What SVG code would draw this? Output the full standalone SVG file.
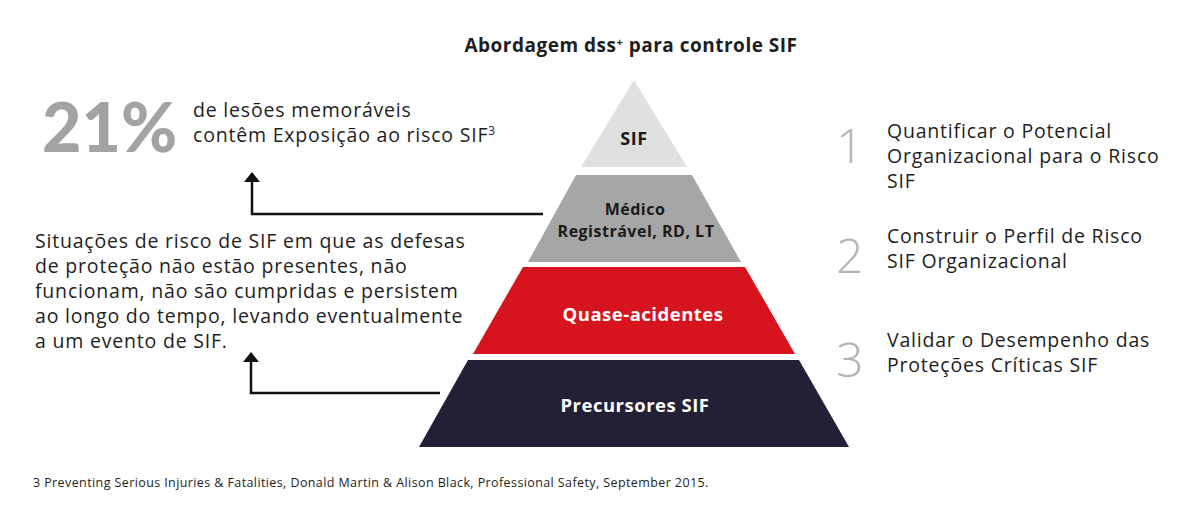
<svg xmlns="http://www.w3.org/2000/svg" width="1200" height="523" viewBox="0 0 1200 523">
<defs>
<style>
.t{font-family:"Open Sans",Lato,sans-serif;fill:#1e1e1e}
.b{font-weight:700}
.body{font-size:19.5px;letter-spacing:0.8px}
.num{font-family:"Open Sans",sans-serif;font-weight:300;font-size:48px;fill:#b3b3b3}
.lbl{font-family:"Open Sans",sans-serif;font-weight:700;text-anchor:middle;letter-spacing:0.5px}
.conn{fill:none;stroke:#111;stroke-width:2.5}
</style>
<marker id="ah" viewBox="0 0 10 16" refX="2" refY="8" markerWidth="10" markerHeight="16" markerUnits="userSpaceOnUse" orient="auto">
<path d="M0,0 L10,8 L0,16 z" fill="#111"/>
</marker>
</defs>
<rect width="1200" height="523" fill="#fff"/>
<text class="t b" x="631" y="52" font-size="19" letter-spacing="0.5" text-anchor="middle">Abordagem dss<tspan font-size="11" dy="-6">+</tspan><tspan dy="6"> para controle SIF</tspan></text>
<g id="stat">
<text x="42" y="152" font-family="Lato,sans-serif" font-weight="900" font-size="68" fill="#a3a3a3">21%</text>
<text class="t body" x="193" y="117">de lesões memoráveis</text>
<text class="t body" x="193" y="142">contêm Exposição ao risco SIF<tspan font-size="12" dy="-7">3</tspan></text>
</g>
<g id="desc">
<text class="t body" x="35" y="248">Situações de risco de SIF em que as defesas</text>
<text class="t body" x="35" y="273">de proteção não estão presentes, não</text>
<text class="t body" x="35" y="298">funcionam, não são cumpridas e persistem</text>
<text class="t body" x="35" y="323">ao longo do tempo, levando eventualmente</text>
<text class="t body" x="35" y="348">a um evento de SIF.</text>
</g>
<g id="layer-sif">
<polygon points="634,80 687,167 581,167" fill="#e0e0e0"/>
<text class="lbl" x="634" y="145" font-size="18" fill="#1a1a1a">SIF</text>
</g>
<g id="layer-medico">
<polygon points="576,175 692,175 741,262 528,262" fill="#a6a6a6"/>
<text class="lbl" x="635" y="215" font-size="16" fill="#1a1a1a">Médico</text>
<text class="lbl" x="636" y="237" font-size="16" fill="#1a1a1a">Registrável, RD, LT</text>
</g>
<g id="layer-quase">
<polygon points="523,267 745,267 795,354 473,354" fill="#d7141d"/>
<text class="lbl" x="643" y="321" font-size="18.5" fill="#fff">Quase-acidentes</text>
</g>
<g id="layer-precursores">
<polygon points="468,360 799,360 849,447 419,447" fill="#231f36"/>
<text class="lbl" x="635" y="412" font-size="18.5" letter-spacing="0.6" fill="#fff">Precursores SIF</text>
</g>
<g id="connectors">
<path class="conn" d="M543,214 H252 V180" marker-end="url(#ah)"/>
<path class="conn" d="M440,393 H251 V360" marker-end="url(#ah)"/>
</g>
<g id="step1">
<text class="num" x="836" y="163">1</text>
<text class="t body" x="887" y="138">Quantificar o Potencial</text>
<text class="t body" x="887" y="163">Organizacional para o Risco</text>
<text class="t body" x="887" y="188">SIF</text>
</g>
<g id="step2">
<text class="num" x="836" y="273">2</text>
<text class="t body" x="887" y="243">Construir o Perfil de Risco</text>
<text class="t body" x="887" y="268">SIF Organizacional</text>
</g>
<g id="step3">
<text class="num" x="836" y="377">3</text>
<text class="t body" x="887" y="347">Validar o Desempenho das</text>
<text class="t body" x="887" y="372">Proteções Críticas SIF</text>
</g>
<text class="t" x="33" y="487" font-size="12.5" letter-spacing="0.4">3 Preventing Serious Injuries &amp; Fatalities, Donald Martin &amp; Alison Black, Professional Safety, September 2015.</text>
</svg>
